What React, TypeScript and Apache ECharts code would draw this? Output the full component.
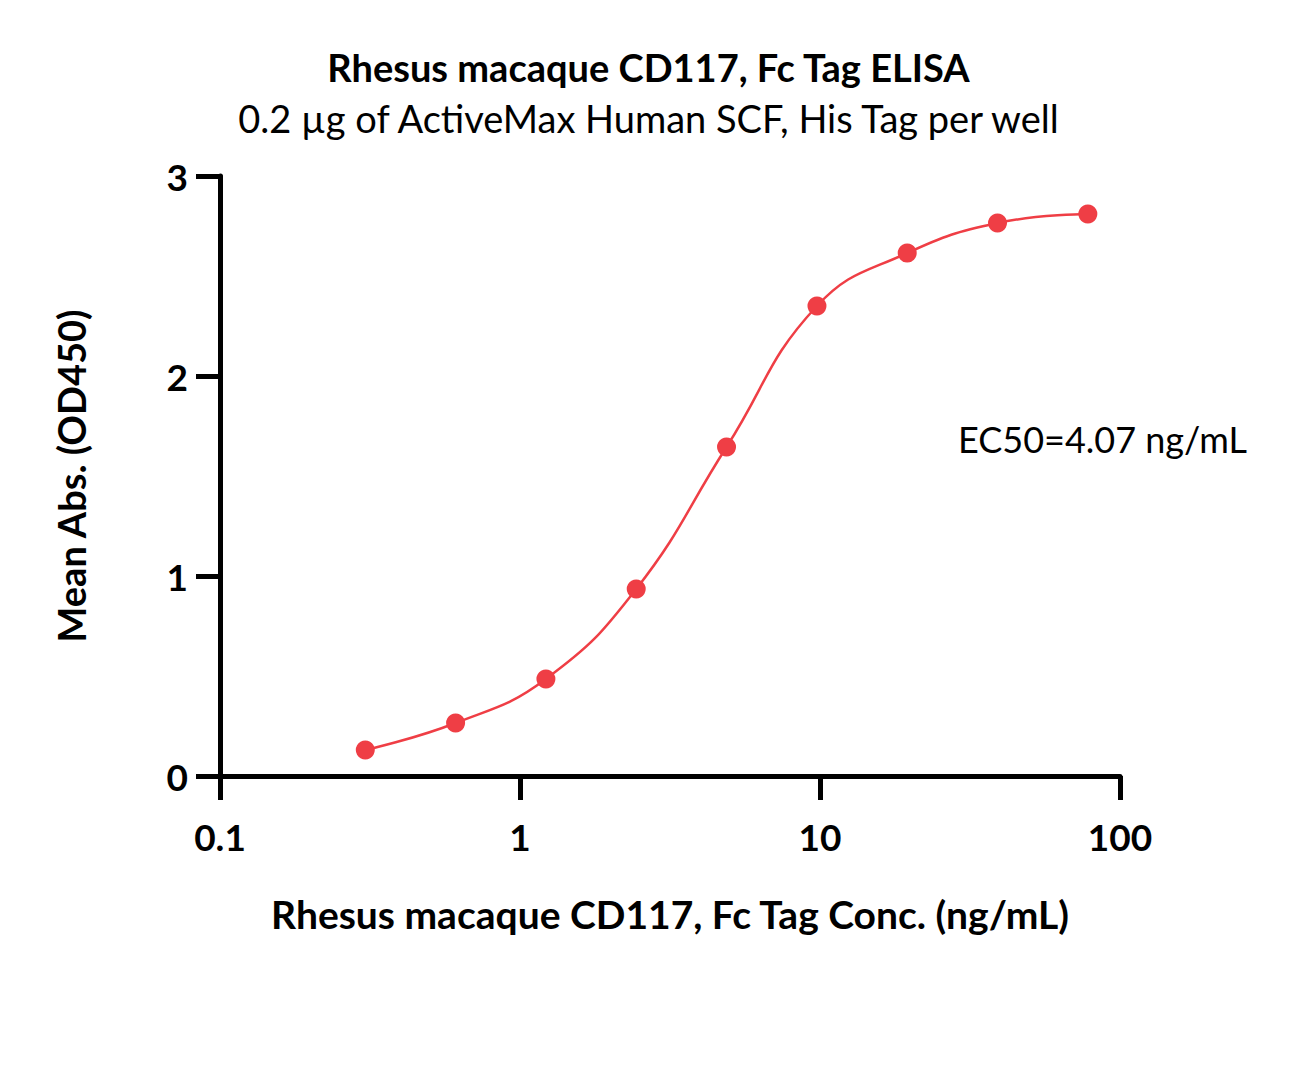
import React, { useEffect, useRef } from "react";
import * as echarts from "echarts";

const concentrations = [0.305, 0.61, 1.22, 2.44, 4.88, 9.77, 19.53, 39.06, 78.13];
const meanAbs = [0.13, 0.265, 0.485, 0.935, 1.645, 2.35, 2.615, 2.765, 2.81];
const xTicks = [0.1, 1, 10, 100];
const yTicks = [0, 1, 2, 3];
const titleText = "Rhesus macaque CD117, Fc Tag ELISA";
const subtitleText = "0.2 \u00b5g of ActiveMax Human SCF, His Tag per well";
const xName = "Rhesus macaque CD117, Fc Tag Conc. (ng/mL)";
const yName = "Mean Abs. (OD450)";
const ec50Text = "EC50=4.07 ng/mL";

const FONT = "Lato, 'Open Sans', sans-serif";
const RED = "#EF3E45";

export default function App() {
  const ref = useRef<HTMLDivElement>(null);
  useEffect(() => {
    if (!ref.current) return;
    const chart = echarts.init(ref.current, null, { renderer: "svg" });
    const pts = concentrations.map((c, i) => [c, meanAbs[i]]);
    chart.setOption({
      animation: false,
      backgroundColor: "#ffffff",
      title: [
        {
          text: titleText,
          left: "center",
          top: 43,
          textStyle: { fontFamily: FONT, fontWeight: "bold", fontSize: 38, color: "#000" },
        },
        {
          text: subtitleText,
          left: "center",
          top: 94,
          textStyle: { fontFamily: FONT, fontWeight: "normal", fontSize: 38, color: "#000" },
        },
      ],
      grid: { left: 220, right: 177, top: 176, bottom: 307, containLabel: false },
      xAxis: {
        type: "log",
        logBase: 10,
        min: xTicks[0],
        max: xTicks[xTicks.length - 1],
        name: xName,
        nameLocation: "middle",
        nameGap: 118,
        nameTextStyle: { fontFamily: FONT, fontWeight: "bold", fontSize: 39, color: "#000", verticalAlign: "top" },
        axisLine: { show: true, onZero: false, lineStyle: { color: "#000", width: 5 } },
        axisTick: { show: true, length: 24, lineStyle: { color: "#000", width: 5 } },
        minorTick: { show: false },
        splitLine: { show: false },
        axisLabel: {
          fontFamily: FONT,
          fontWeight: "bold",
          fontSize: 37,
          color: "#000",
          margin: 42,
          formatter: (v: number) => {
            const m = xTicks.find((t) => Math.abs(t - v) / t < 1e-6);
            return m !== undefined ? String(m) : "";
          },
        },
      },
      yAxis: {
        type: "value",
        min: yTicks[0],
        max: yTicks[yTicks.length - 1],
        interval: 1,
        name: yName,
        nameLocation: "middle",
        nameGap: 130,
        nameRotate: 90,
        nameTextStyle: { fontFamily: FONT, fontWeight: "bold", fontSize: 38, color: "#000" },
        axisLine: { show: true, lineStyle: { color: "#000", width: 5 } },
        axisTick: { show: true, length: 24, lineStyle: { color: "#000", width: 5 } },
        splitLine: { show: false },
        axisLabel: {
          fontFamily: FONT,
          fontWeight: "bold",
          fontSize: 37,
          color: "#000",
          margin: 32,
        },
      },
      graphic: [
        {
          type: "text",
          left: 958,
          top: 421,
          style: { text: ec50Text, font: `normal 36px ${FONT}`, fill: "#000" },
        },
      ],
      series: [
        {
          type: "line",
          data: pts,
          smooth: 0.45,
          showSymbol: false,
          lineStyle: { color: RED, width: 2.5 },
          z: 2,
        },
        {
          type: "scatter",
          data: pts,
          symbol: "circle",
          symbolSize: 19,
          itemStyle: { color: RED, opacity: 1 },
          z: 3,
        },
      ],
    });
    return () => chart.dispose();
  }, []);
  return (
    <div
      ref={ref}
      style={{ position: "absolute", left: 0, top: 0, width: 1297, height: 1083 }}
    />
  );
}
